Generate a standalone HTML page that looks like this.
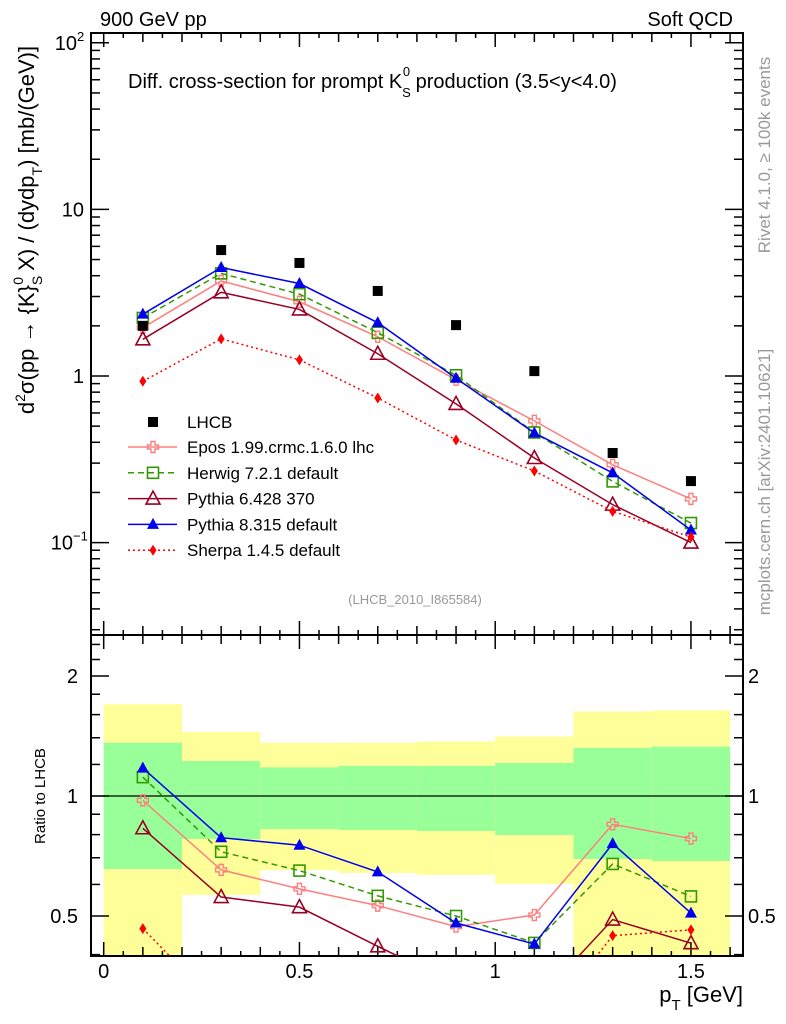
<!DOCTYPE html>
<html style="overflow:hidden"><head><meta charset="utf-8">
<style>
html,body{margin:0;padding:0;background:#fff;width:786px;height:1024px;overflow:hidden}
svg{display:block;font-family:"Liberation Sans",sans-serif}
</style></head>
<body>
<svg id="c" width="786" height="1024" viewBox="0 0 786 1024" xmlns="http://www.w3.org/2000/svg"></svg>
<script>
const categories=[0.1,0.3,0.5,0.7,0.9,1.1,1.3,1.5];
const binEdges=[0,0.2,0.4,0.6,0.8,1.0,1.2,1.4,1.6];
const lhcb=[2.0,5.7,4.77,3.24,2.02,1.07,0.345,0.234];
const epos=[1.95,3.72,2.79,1.72,0.95,0.538,0.293,0.183];
const herwig=[2.23,4.13,3.10,1.82,1.01,0.458,0.233,0.131];
const pythia6=[1.66,3.18,2.51,1.36,0.68,0.322,0.169,0.100];
const pythia8=[2.35,4.48,3.59,2.09,0.97,0.455,0.262,0.119];
const sherpa=[0.93,1.67,1.25,0.738,0.413,0.269,0.154,0.108];
const yellowHi=[1.70,1.447,1.36,1.36,1.37,1.41,1.63,1.64];
const greenHi=[1.36,1.224,1.18,1.19,1.19,1.21,1.32,1.33];
const greenLo=[0.656,0.78,0.826,0.822,0.817,0.798,0.695,0.687];
const yellowLo=[0.3,0.565,0.652,0.641,0.634,0.602,0.3,0.3];
const xTickLabels=["0","0.5","1","1.5"];
const ratioLabels=["0.5","1","2"];

const NS="http://www.w3.org/2000/svg";
const svg=document.getElementById('c');
const L=91,R=743,T=33,M=635,B=956;
const X=v=>103.7+391.5*v;
const Y=v=>376-166.6*Math.log10(v);
const RY=r=>796-120*Math.log2(r);
function el(t,a,p){const e=document.createElementNS(NS,t);for(const k in a)e.setAttribute(k,a[k]);(p||svg).appendChild(e);return e;}
function txt(s,x,y,size,anchor,fill,p){const e=el('text',{x:x,y:y,'font-size':size,'text-anchor':anchor||'start',fill:fill||'#000'},p);e.textContent=s;return e;}

const defs=el('defs',{});
const cp1=el('clipPath',{id:'ct'},defs);el('rect',{x:L,y:T,width:R-L,height:M-T},cp1);
const cp2=el('clipPath',{id:'cb'},defs);el('rect',{x:L,y:M,width:R-L,height:B-M},cp2);

const bands=el('g',{'clip-path':'url(#cb)'});


for(let i=0;i<8;i++){
  const x0=X(binEdges[i]),x1=X(binEdges[i+1]);
  const y1=el('rect',{x:x0,y:RY(yellowHi[i]),width:x1-x0,height:RY(yellowLo[i])-RY(yellowHi[i]),fill:'#ffff99'},bands);
  
  
  const g1=el('rect',{x:x0,y:RY(greenHi[i]),width:x1-x0,height:RY(greenLo[i])-RY(greenHi[i]),fill:'#99ff99'},bands);
  
  
}
el('line',{x1:L,x2:R,y1:RY(1),y2:RY(1),stroke:'#000','stroke-width':1.2});

for(const [y0,y1] of [[T,M],[M,B]]) el('rect',{x:L,y:y0,width:R-L,height:y1-y0,fill:'none',stroke:'#000','stroke-width':2});

const tk=el('g',{stroke:'#000','stroke-width':1.5});
for(let k=0;k<=32;k++){const v=k*0.05;const x=X(v);if(x>R)break;
  const len=(k%10==0)?14:(k%2==0?9:5);
  for(const y of [T,M]){el('line',{x1:x,x2:x,y1:y,y2:y+len},tk);}
  for(const y of [M,B]){el('line',{x1:x,x2:x,y1:y,y2:y-len},tk);}
}
xTickLabels.forEach((s,i)=>{const t=txt(s,X(i*0.5),978,20,'middle');
  
  });

for(let d=-2;d<=2;d++){for(let m=1;m<10;m++){const v=m*Math.pow(10,d);const y=Y(v);if(y<T||y>M)continue;
  const len=m==1?18:9;el('line',{x1:L,x2:L+len,y1:y,y2:y},tk);el('line',{x1:R,x2:R-len,y1:y,y2:y},tk);}}
[[0.1,"10","\u22121",84],[1,"1",null,84],[10,"10",null,84],[100,"10","2",84]].forEach(a=>{
  const t=el('text',{x:a[3],y:Y(a[0])+7,'font-size':20,'text-anchor':'end'});
  
  
  if(a[2]){t.setAttribute('x',a[3]-(a[2].length>1?11:7));t.textContent=a[1];
    const s=el('text',{x:a[3]-(a[2].length>1?11:7),y:Y(a[0])-2,'font-size':13,'text-anchor':'start'});s.textContent=a[2];}
  else t.textContent=a[1];
});
[0.4,0.5,0.6,0.7,0.8,0.9,1,1.2,1.4,1.6,1.8,2,2.2,2.4].forEach(r=>{const y=RY(r);if(y<M||y>B)return;
  const len=(r==0.5||r==1||r==2)?18:9;el('line',{x1:L,x2:L+len,y1:y,y2:y},tk);el('line',{x1:R,x2:R-len,y1:y,y2:y},tk);});
[0.5,1,2].forEach((r,i)=>{
  const a=txt(ratioLabels[i],78,RY(r)+7,20,'end');
  const b=txt(ratioLabels[i],748,RY(r)+7,20,'start');});

function marker(type,x,y,color,p){
  if(type=='sq') return el('rect',{x:x-5,y:y-5,width:10,height:10,fill:'#000'},p);
  if(type=='osq') return el('rect',{x:x-5.5,y:y-5.5,width:11,height:11,fill:'none',stroke:color,'stroke-width':1.6},p);
  if(type=='cross') return el('path',{d:`M${x-2},${y-5.5}h4v3.5h3.5v4h-3.5v3.5h-4v-3.5h-3.5v-4h3.5z`,fill:'none',stroke:color,'stroke-width':1.4},p);
  if(type=='otri') return el('path',{d:`M${x},${y-7.5}L${x+7},${y+5.5}L${x-7},${y+5.5}Z`,fill:'none',stroke:color,'stroke-width':1.6},p);
  if(type=='ftri') return el('path',{d:`M${x},${y-6.5}L${x+6},${y+4.5}L${x-6},${y+4.5}Z`,fill:color},p);
  if(type=='dia') return el('path',{d:`M${x},${y-5.5}L${x+3.5},${y}L${x},${y+5.5}L${x-3.5},${y}Z`,fill:color},p);
}
const series=[
 {name:'epos',vals:epos,color:'#ff7f7f',dash:'',m:'cross',label:'Epos 1.99.crmc.1.6.0 lhc'},
 {name:'herwig',vals:herwig,color:'#339900',dash:'6,4',m:'osq',label:'Herwig 7.2.1 default'},
 {name:'pythia6',vals:pythia6,color:'#990022',dash:'',m:'otri',label:'Pythia 6.428 370'},
 {name:'pythia8',vals:pythia8,color:'#0000ee',dash:'',m:'ftri',label:'Pythia 8.315 default'},
 {name:'sherpa',vals:sherpa,color:'#ff0000',dash:'2,3',m:'dia',label:'Sherpa 1.4.5 default'}];
const gt=el('g',{'clip-path':'url(#ct)'}),gb=el('g',{'clip-path':'url(#cb)'});
series.forEach(s=>{
  const pts=categories.map((c,i)=>[X(c),Y(s.vals[i])]);
  const ln=el('polyline',{points:pts.map(p=>p.join(',')).join(' '),fill:'none',stroke:s.color,'stroke-width':1.5,'stroke-dasharray':s.dash},gt);
  
  
  pts.forEach(p=>marker(s.m,p[0],p[1],s.color,gt));
  const rp=categories.map((c,i)=>[X(c),RY(s.vals[i]/lhcb[i])]);
  const rl=el('polyline',{points:rp.map(p=>p.join(',')).join(' '),fill:'none',stroke:s.color,'stroke-width':1.5,'stroke-dasharray':s.dash},gb);
  
  
  rp.forEach(p=>marker(s.m,p[0],p[1],s.color,gb));
});
categories.forEach((c,i)=>{const m=marker('sq',X(c),Y(lhcb[i]),'#000',gt);
  
  });

const lg=el('g',{});


marker('sq',153,422,'#000',lg);txt('LHCB',187,428,17,'start','#000',lg);
series.forEach((s,i)=>{const y=447+i*25.8;
  el('line',{x1:128,x2:177,y1:y,y2:y,stroke:s.color,'stroke-width':1.5,'stroke-dasharray':s.dash},lg);
  marker(s.m,153,y,s.color,lg);
  const t=txt(s.label,187,y+6,17,'start','#000',lg);
  
  });

let t;
t=txt('900 GeV pp',100,26,20);
t=txt('Soft QCD',733,26,20,'end');
t=el('text',{x:128,y:88,'font-size':20});
t.innerHTML='Diff. cross-section for prompt K<tspan dy="9" font-size="13">S</tspan><tspan dx="-8" dy="-21" font-size="13">0</tspan><tspan dy="12"> production (3.5&lt;y&lt;4.0)</tspan>';
t=txt('(LHCB_2010_I865584)',415,604,13,'middle','#999');
t=el('text',{x:0,y:0,'font-size':22,'text-anchor':'middle',transform:'translate(34,230) rotate(-90)'});

t.innerHTML='d<tspan dy="-9" font-size="14">2</tspan><tspan dy="9">σ(pp → {K}</tspan><tspan dy="8" font-size="14">S</tspan><tspan dx="-9" dy="-19" font-size="14">0</tspan><tspan dy="11"> X) / (dydp</tspan><tspan dy="8" font-size="14">T</tspan><tspan dy="-8">) [mb/(GeV)]</tspan>';
t=el('text',{x:0,y:0,'font-size':15,'text-anchor':'middle',transform:'translate(45,796) rotate(-90)'});t.textContent='Ratio to LHCB';

t=el('text',{x:743,y:1002,'font-size':22,'text-anchor':'end'});t.innerHTML='p<tspan dy="8" font-size="15">T</tspan><tspan dy="-8"> [GeV]</tspan>';

t=el('text',{x:0,y:0,'font-size':17,fill:'#999','text-anchor':'middle',transform:'translate(770,155) rotate(-90)'});t.textContent='Rivet 4.1.0, ≥ 100k events';

t=el('text',{x:0,y:0,'font-size':17,fill:'#999','text-anchor':'middle',transform:'translate(770,482) rotate(-90)'});t.textContent='mcplots.cern.ch [arXiv:2401.10621]';

</script>
</body></html>
